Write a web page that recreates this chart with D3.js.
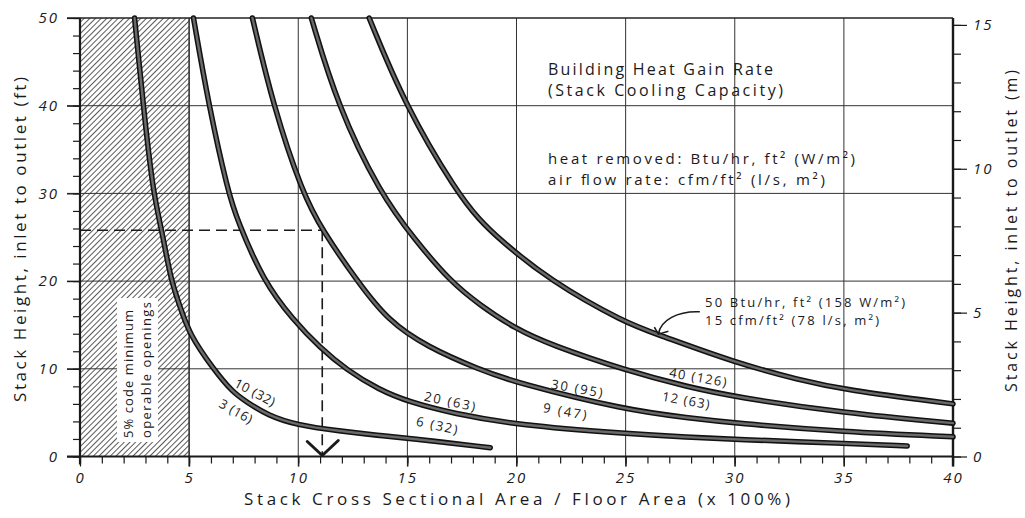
<!DOCTYPE html>
<html><head><meta charset="utf-8">
<script src="https://cdn.jsdelivr.net/npm/d3@7"></script>
<style>
body{margin:0;background:#fff}
svg{display:block}
text{font-family:"Open Sans",sans-serif;fill:#1a1a1a}
</style>
</head><body><svg id="c" width="1025" height="518"></svg>
<script>
// ---------- data ----------
const xTicks = [0, 5, 10, 15, 20, 25, 30, 35, 40];
const yTicksFt = [0, 10, 20, 30, 40, 50];
const yTicksM = [0, 5, 10, 15];
const airflowCfm = [3, 6, 9, 12, 15];
const heatLabels = ["10 (32)", "20 (63)", "30 (95)", "40 (126)", "50 Btu/hr, ft² (158 W/m²)"];
const flowLabels = ["3 (16)", "6 (32)", "9 (47)", "12 (63)", "15 cfm/ft² (78 l/s, m²)"];
// [area %, stack height ft]
const curve3 = [[2.5,50],[2.9,40],[3.35,30],[3.75,25.8],[4.17,20],[4.6,17.0],[5.0,14.0],[6.1,10],[7.0,7.3],[7.65,6.2],[8.6,4.7],[9.9,3.6],[11.9,2.9],[13.7,2.4],[15,2.1],[18.8,1.0]];
const curve6 = [[5.2,50],[5.9,40],[6.8,30],[7.2,27],[8.4,20],[9.76,15.6],[11.0,12.4],[12.2,9.9],[13.7,7.6],[15.1,6.2],[17.1,4.9],[20,3.6],[25,2.6],[27.9,2.2],[30,1.95],[35,1.5],[37.9,1.2]];
const curve9 = [[7.9,50],[8.85,40],[10.2,30],[11.1,25.8],[12.7,20],[14.1,15.5],[15.9,12.5],[18.3,9.9],[20,8.4],[25,5.3],[27.9,4.4],[30,3.8],[35,2.8],[40,2.25]];
const curve12 = [[10.6,50],[11.8,40],[13.75,30],[15.35,24.7],[16.95,20],[18.3,17.3],[20,14.5],[21.5,12.8],[25,9.8],[27.9,7.9],[30,6.8],[35,4.95],[40,3.8]];
const curve15 = [[13.25,50],[14.9,40],[17.3,30],[18.3,27],[19.2,24.8],[21.5,20.1],[25,15.2],[26.5,13.9],[30,10.7],[33,8.7],[35,7.6],[40,6.0]];
const curves = [curve3, curve6, curve9, curve12, curve15];
const codeMinimumArea = 5;
const exampleHeightFt = 25.8;
const exampleArea = 11.1;
const FT_PER_M = 3.2808;

// ---------- layout ----------
const svg = d3.select("#c");
const L = 80, R = 953, T = 18, B = 456.5;
const x = d3.scaleLinear().domain([0, 40]).range([L, R]);
const y = d3.scaleLinear().domain([0, 50]).range([B, T]);
const yM = d3.scaleLinear().domain([0, 50 / FT_PER_M]).range([B, T]);
const ink = "#1a1a1a";

// hatch pattern
const defs = svg.append("defs");
const pat = defs.append("pattern").attr("id", "hatch").attr("patternUnits", "userSpaceOnUse")
  .attr("width", 4).attr("height", 4).attr("patternTransform", "rotate(45)");
pat.append("line").attr("x1", 0).attr("y1", 0).attr("x2", 0).attr("y2", 4)
  .attr("stroke", "#000").attr("stroke-width", 1.3);

svg.append("rect").attr("x", x(0)).attr("y", y(50)).attr("width", x(codeMinimumArea) - x(0))
  .attr("height", y(0) - y(50)).attr("fill", "url(#hatch)");

// grid
const g = svg.append("g").attr("stroke", "#333").attr("stroke-width", 1).attr("fill", "none");
xTicks.filter(d => d > 0 && d < 40).forEach(d => {
  g.append("line").attr("x1", x(d)).attr("x2", x(d)).attr("y1", y(50)).attr("y2", y(0) + 10)
   .attr("stroke-width", d === codeMinimumArea ? 1.6 : 1);
});
yTicksFt.filter(d => d > 0).forEach(d => {
  g.append("line").attr("x1", x(0) - 13).attr("x2", x(40)).attr("y1", y(d)).attr("y2", y(d));
});

// minor ticks via axes
const axisStyle = sel => { sel.select(".domain").remove(); sel.selectAll("line").attr("stroke", ink).attr("stroke-width", 1.2); };
svg.append("g").attr("transform", `translate(0,${B})`)
  .call(d3.axisBottom(x).tickValues(d3.range(0, 41, 1)).tickSize(7).tickFormat(""))
  .call(axisStyle);
svg.append("g").attr("transform", `translate(${L},0)`)
  .call(d3.axisLeft(y).tickValues(d3.range(0, 51, 2)).tickSize(7).tickFormat(""))
  .call(axisStyle);
svg.append("g").attr("transform", `translate(${R},0)`)
  .call(d3.axisRight(yM).tickValues(d3.range(0, 16, 1)).tickSize(8).tickFormat(""))
  .call(axisStyle);

// major tick labels
const labelStyle = sel => {
  sel.select(".domain").remove();
  sel.selectAll("line").attr("stroke", ink).attr("stroke-width", 1.2);
  sel.selectAll("text").attr("font-family", "'Open Sans',sans-serif").attr("font-style", "italic")
    .attr("font-size", 15).attr("fill", ink).attr("letter-spacing", 2);
};
svg.append("g").attr("transform", `translate(0,${B})`)
  .call(d3.axisBottom(x).tickValues(xTicks).tickSize(10).tickPadding(6).tickFormat(d3.format("d")))
  .call(labelStyle);
svg.append("g").attr("transform", `translate(${L},0)`)
  .call(d3.axisLeft(y).tickValues(yTicksFt).tickSize(13).tickPadding(8).tickFormat(d3.format("d")))
  .call(labelStyle);
svg.append("g").attr("transform", `translate(${R},0)`)
  .call(d3.axisRight(yM).tickValues(yTicksM).tickSize(14).tickPadding(6).tickFormat(d3.format("d")))
  .call(labelStyle);

// frame
svg.append("line").attr("x1", x(0) - 13).attr("x2", x(40)).attr("y1", y(50)).attr("y2", y(50)).attr("stroke", ink).attr("stroke-width", 1.2);
svg.append("line").attr("x1", x(0)).attr("x2", x(0)).attr("y1", y(50)).attr("y2", y(0) + 8).attr("stroke", ink).attr("stroke-width", 2.2);
svg.append("line").attr("x1", x(0) - 13).attr("x2", x(40)).attr("y1", y(0)).attr("y2", y(0)).attr("stroke", ink).attr("stroke-width", 2.2);
svg.append("line").attr("x1", x(40)).attr("x2", x(40)).attr("y1", y(50)).attr("y2", y(0) + 10).attr("stroke", ink).attr("stroke-width", 2.4);

// code minimum label box
const boxG = svg.append("g");
boxG.append("rect").attr("x", 117).attr("y", 298).attr("width", 41).attr("height", 144).attr("fill", "#fff");
boxG.append("text").attr("transform", `translate(133,438) rotate(-90)`).attr("font-size", 13)
  .attr("textLength", 128).attr("lengthAdjust", "spacing").text("5% code minimum");
boxG.append("text").attr("transform", `translate(151,438) rotate(-90)`).attr("font-size", 13)
  .attr("textLength", 136).attr("lengthAdjust", "spacing").text("operable openings");

// dashed example lines
const dash = svg.append("g").attr("stroke", ink).attr("stroke-width", 1.6).attr("fill", "none");
dash.append("line").attr("x1", x(0)).attr("x2", x(exampleArea)).attr("y1", y(exampleHeightFt)).attr("y2", y(exampleHeightFt)).attr("stroke-dasharray", "11,6");
dash.append("line").attr("x1", x(exampleArea)).attr("x2", x(exampleArea)).attr("y1", y(exampleHeightFt)).attr("y2", y(0) - 2).attr("stroke-dasharray", "11,6");
dash.append("path").attr("stroke-width", 3).attr("stroke-linecap", "round").attr("stroke-linejoin", "round")
  .attr("d", `M${x(exampleArea) - 15},${y(0) - 15}L${x(exampleArea)},${y(0) - 1}L${x(exampleArea) + 16},${y(0) - 16}`);

// curves
const line = d3.line().x(d => x(d[0])).y(d => y(d[1])).curve(d3.curveBasis);
const cg = svg.append("g").attr("fill", "none").attr("stroke-linecap", "round").attr("stroke-linejoin", "round");
curves.forEach(c => {
  cg.append("path").attr("d", line(c)).attr("stroke", "#111").attr("stroke-width", 5.5);
  cg.append("path").attr("d", line(c)).attr("stroke", "#6a6a6a").attr("stroke-width", 2.4);
});

// curve labels (placed in data coordinates)
const place = [
  {h: [8.02, 7.35, 28], f: [7.15, 5.2, 29]},
  {h: [16.95, 6.33, 12], f: [16.36, 3.59, 12]},
  {h: [22.77, 7.81, 10], f: [22.22, 5.19, 10]},
  {h: [28.32, 9.07, 10], f: [27.77, 6.44, 10]}
];
const lw = [[44, 36], [52, 42], [52, 44], [58, 48]];
place.forEach((p, i) => {
  svg.append("text").attr("transform", `translate(${x(p.h[0])},${y(p.h[1])}) rotate(${p.h[2]})`)
    .attr("text-anchor", "middle").attr("dominant-baseline", "central").attr("font-size", 13)
    .attr("textLength", lw[i][0]).attr("lengthAdjust", "spacing").text(heatLabels[i]);
  svg.append("text").attr("transform", `translate(${x(p.f[0])},${y(p.f[1])}) rotate(${p.f[2]})`)
    .attr("text-anchor", "middle").attr("dominant-baseline", "central").attr("font-size", 13)
    .attr("textLength", lw[i][1]).attr("lengthAdjust", "spacing").text(flowLabels[i]);
});
svg.append("text").attr("x", x(28.64)).attr("y", y(17.1)).attr("font-size", 13)
  .attr("textLength", 200).attr("lengthAdjust", "spacing").text(heatLabels[4]);
svg.append("text").attr("x", x(28.64)).attr("y", y(15.05)).attr("font-size", 13)
  .attr("textLength", 174).attr("lengthAdjust", "spacing").text(flowLabels[4]);

// pointer arrow to the 15 cfm curve
const tip = [x(26.5), y(13.95)];
const st = [x(28.4), y(16.5)];
svg.append("path").attr("fill", "none").attr("stroke", ink).attr("stroke-width", 1.6)
  .attr("d", `M${st[0]},${st[1]} C${st[0] - 22},${st[1] - 1} ${tip[0] + 2},${tip[1] - 14} ${tip[0]},${tip[1]}`);
svg.append("path").attr("fill", "none").attr("stroke", ink).attr("stroke-width", 1.6)
  .attr("d", `M${tip[0] - 4},${tip[1] - 7} L${tip[0]},${tip[1]} L${tip[0] + 10},${tip[1] - 3}`);

// titles
const tl = [
  ["Building Heat Gain Rate", 75, 225, 16],
  ["(Stack Cooling Capacity)", 96, 235, 16],
  ["heat removed: Btu/hr, ft² (W/m²)", 164, 307, 15],
  ["air flow rate: cfm/ft² (l/s, m²)", 185, 277, 15]
];
tl.forEach(t => svg.append("text").attr("x", 548).attr("y", t[1]).attr("font-size", t[3])
  .attr("textLength", t[2]).attr("lengthAdjust", "spacing").text(t[0]));

// axis titles
svg.append("text").attr("x", 244).attr("y", 505).attr("font-size", 17)
  .attr("textLength", 546).attr("lengthAdjust", "spacing")
  .text("Stack Cross Sectional Area / Floor Area (x 100%)");
svg.append("text").attr("transform", "translate(26,402) rotate(-90)").attr("font-size", 17)
  .attr("textLength", 325).attr("lengthAdjust", "spacing")
  .text("Stack Height, inlet to outlet (ft)");
svg.append("text").attr("transform", "translate(1017,392) rotate(-90)").attr("font-size", 16)
  .attr("textLength", 322).attr("lengthAdjust", "spacing")
  .text("Stack Height, inlet to outlet (m)");
</script>
</body></html>
